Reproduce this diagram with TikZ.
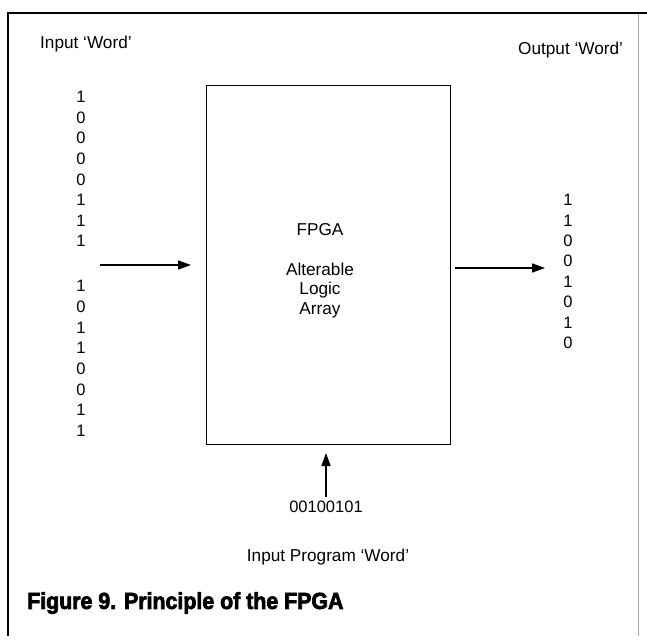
\documentclass[tikz,border=0pt]{standalone}
\usepackage{fontspec}
\setmainfont{Liberation Sans}
\newfontfamily\capfont[FakeBold=3,FakeStretch=0.92]{Liberation Sans Bold}
\usetikzlibrary{arrows.meta}
\begin{document}
\begin{tikzpicture}[x=1pt,y=-1pt,
  lbl/.style={inner sep=0pt,font=\fontsize{17.2}{19}\selectfont},
  bit/.style={inner sep=0pt,font=\fontsize{16.5}{18}\selectfont},
  flow/.style={line width=1.5pt,-{Triangle[length=13pt,width=9pt]}},
  chip/.style={draw,line width=1.1pt}]
\useasboundingbox (0,0) rectangle (647,639);
% page frame
\draw[line width=1.6pt] (8,636) -- (8,13) -- (647,13);
\draw[line width=0.6pt,black!35] (638,14) -- (638,636);
% headings
\node[lbl,anchor=west] (inw) at (40,44) {Input ‘Word’};
\node[lbl,anchor=west] (outw) at (518,50) {Output ‘Word’};
% the logic array
\node[chip,minimum width=244pt,minimum height=359pt,anchor=north west,inner sep=0pt] (fpga) at (206,85) {};
\node[lbl,align=center,anchor=north] (fpgalbl) at (320,223) {FPGA\\[21pt]Alterable\\[0.5pt]Logic\\[0.5pt]Array};
% input bits
\foreach \v [count=\i] in {1,0,0,0,0,1,1,1}
  \node[bit] (ia\i) at (81,{97+(\i-1)*20.6}) {\v};
\foreach \v [count=\i] in {1,0,1,1,0,0,1,1}
  \node[bit] (ib\i) at (81,{286+(\i-1)*20.7}) {\v};
% output bits
\foreach \v [count=\i] in {1,1,0,0,1,0,1,0}
  \node[bit] (ob\i) at (568,{200+(\i-1)*20.4}) {\v};
% program word
\node[bit] (prog) at (326,507) {00100101};
\node[lbl] (progw) at (328,557) {Input Program ‘Word’};
% connectors
\coordinate (inA) at (100,265);
\coordinate (inB) at (191,265);
\draw[flow] (inA) -- (inB);
\coordinate (outA) at (455,268);
\coordinate (outB) at (545,268);
\draw[flow] (outA) -- (outB);
\coordinate (pgB) at (326,453);
\draw[flow] (prog.north) ++(0,-4) coordinate (pgA) (pgA) -- (pgB);
% caption
\node[anchor=west,inner sep=0pt,font={\capfont\fontsize{23.2}{26}\selectfont}] (cap) at (27,603) {Figure 9. Principle of the FPGA};
\end{tikzpicture}
\end{document}
